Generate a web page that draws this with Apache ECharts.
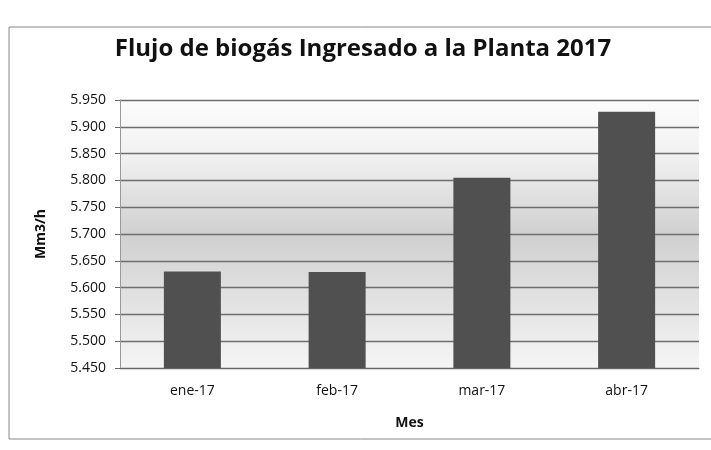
<!DOCTYPE html>
<html>
<head>
<meta charset="utf-8">
<script src="https://cdn.jsdelivr.net/npm/echarts@6/dist/echarts.min.js"></script>
<style>
html, body { margin: 0; padding: 0; background: #fff; }
#chart { width: 711px; height: 450px; }
</style>
</head>
<body>
<div id="chart"></div>
<script>
var meses = ['ene-17', 'feb-17', 'mar-17', 'abr-17'];
var flujo = [5.630, 5.629, 5.805, 5.928];

var chart = echarts.init(document.getElementById('chart'));

// fondo del área de trazado: blanco arriba, gris al centro, claro abajo
var fondo = new echarts.graphic.LinearGradient(0, 0, 0, 1, [
    { offset: 0, color: '#fcfcfc' },
    { offset: 0.2, color: '#f2f2f2' },
    { offset: 0.5, color: '#d0d0d0' },
    { offset: 0.75, color: '#e2e2e2' },
    { offset: 1, color: '#f5f5f5' }
]);

var option = {
    backgroundColor: '#fff',
    textStyle: { fontFamily: 'Open Sans' },
    title: {
        text: 'Flujo de biogás Ingresado a la Planta 2017',
        left: 358,
        top: 32,
        textAlign: 'center',
        textStyle: { fontSize: 24, fontWeight: 'bold', color: '#111', fontFamily: 'Open Sans' }
    },
    graphic: [{
        type: 'rect',
        shape: { x: 9, y: 27, width: 710, height: 412 },
        style: { fill: null, stroke: '#888', lineWidth: 1 },
        z: -1
    }],
    grid: {
        left: 120, right: 12, top: 100, bottom: 82,
        show: true, backgroundColor: fondo, borderWidth: 0
    },
    xAxis: {
        type: 'category',
        data: meses,
        name: 'Mes',
        nameLocation: 'middle',
        nameGap: 48,
        nameTextStyle: { fontSize: 14, fontWeight: 'bold', color: '#111' },
        axisLine: { lineStyle: { color: '#666' } },
        axisTick: { show: false },
        axisLabel: { fontSize: 14, color: '#111', margin: 16 }
    },
    yAxis: {
        type: 'value',
        min: 5.45,
        max: 5.95,
        interval: 0.05,
        name: 'Mm3/h',
        nameLocation: 'middle',
        nameGap: 72,
        nameTextStyle: { fontSize: 14, fontWeight: 'bold', color: '#111' },
        axisLine: { show: true, lineStyle: { color: '#999' } },
        axisTick: { show: true, length: 5, lineStyle: { color: '#666' } },
        axisLabel: {
            fontSize: 14, color: '#111', margin: 14,
            formatter: function (v) { return v.toFixed(3); }
        },
        splitLine: { lineStyle: { color: '#6e6e6e', width: 1.3 } }
    },
    series: [{
        type: 'bar',
        data: flujo,
        barWidth: 57,
        itemStyle: { color: '#505050' }
    }]
};
chart.setOption(option);
</script>
</body>
</html>
